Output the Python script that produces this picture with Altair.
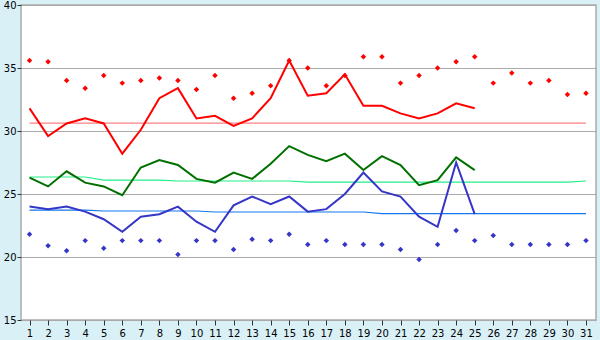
import altair as alt
import pandas as pd

days = list(range(1, 32))
line_days = list(range(1, 26))

max_line = [31.8, 29.6, 30.6, 31.0, 30.6, 28.2, 30.1, 32.6, 33.4, 31.0, 31.2, 30.4, 31.0,
            32.6, 35.6, 32.8, 33.0, 34.5, 32.0, 32.0, 31.4, 31.0, 31.4, 32.2, 31.8]
mean_line = [26.3, 25.6, 26.8, 25.9, 25.6, 24.9, 27.1, 27.7, 27.3, 26.2, 25.9, 26.7, 26.2,
             27.4, 28.8, 28.1, 27.6, 28.2, 26.9, 28.0, 27.3, 25.7, 26.1, 27.9, 26.9]
min_line = [24.0, 23.8, 24.0, 23.6, 23.0, 22.0, 23.2, 23.4, 24.0, 22.8, 22.0, 24.1, 24.8,
            24.2, 24.8, 23.6, 23.8, 25.0, 26.7, 25.2, 24.8, 23.2, 22.4, 27.5, 23.4]

max_points = [35.6, 35.5, 34.0, 33.4, 34.4, 33.8, 34.0, 34.2, 34.0, 33.3, 34.4, 32.6, 33.0,
              33.6, 35.6, 35.0, 33.6, 34.4, 35.9, 35.9, 33.8, 34.4, 35.0, 35.5, 35.9, 33.8,
              34.6, 33.8, 34.0, 32.9, 33.0]
min_points = [21.8, 20.9, 20.5, 21.3, 20.7, 21.3, 21.3, 21.3, 20.2, 21.3, 21.3, 20.6, 21.4,
              21.3, 21.8, 21.0, 21.3, 21.0, 21.0, 21.0, 20.6, 19.8, 21.0, 22.1, 21.3, 21.7,
              21.0, 21.0, 21.0, 21.0, 21.3]

max_normal = [30.63] * 31
mean_normal = [26.35, 26.35, 26.35, 26.35, 26.1, 26.1, 26.1, 26.1, 26.03, 26.03, 26.03,
               26.03, 26.03, 26.03, 26.03, 25.95, 25.95, 25.95, 25.95, 25.95, 25.95, 25.95,
               25.95, 25.95, 25.95, 25.95, 25.95, 25.95, 25.95, 25.95, 26.03]
min_normal = [23.72, 23.72, 23.72, 23.72, 23.65, 23.65, 23.65, 23.65, 23.65, 23.65, 23.57,
              23.57, 23.57, 23.57, 23.57, 23.57, 23.57, 23.57, 23.57, 23.44, 23.44, 23.44,
              23.44, 23.44, 23.44, 23.44, 23.44, 23.44, 23.44, 23.44, 23.44]

df_days = pd.DataFrame({"day": days, "max_pt": max_points, "min_pt": min_points,
                        "max_n": max_normal, "mean_n": mean_normal, "min_n": min_normal})
df_line = pd.DataFrame({"day": line_days, "max_l": max_line, "mean_l": mean_line,
                        "min_l": min_line})

x = alt.X("day:Q", scale=alt.Scale(domain=[0.54, 31.54], nice=False, zero=False),
          axis=alt.Axis(values=days, title=None, grid=False, domain=False, tickSize=5,
                        tickColor="#333333", labelPadding=3, labelFontSize=10,
                        labelFont="DejaVu Sans", labelColor="#000000", labelFlush=False))
yscale = alt.Scale(domain=[15, 40], nice=False, zero=False)
yaxis = alt.Axis(values=[15, 20, 25, 30, 35, 40], title=None, grid=True, gridColor="#aaaaaa",
                 gridWidth=1.2, domain=False, tickSize=4, tickColor="#333333",
                 labelPadding=1, labelFontSize=10, labelFont="DejaVu Sans",
                 labelColor="#000000", labelFlush=False)


def yenc(field):
    return alt.Y(f"{field}:Q", scale=yscale, axis=yaxis)


base_days = alt.Chart(df_days)
base_line = alt.Chart(df_line)

n_max = base_days.mark_line(color="#ff8080", strokeWidth=1.2).encode(x=x, y=yenc("max_n"))
n_mean = base_days.mark_line(color="#22ee88", strokeWidth=1.2).encode(x=x, y=yenc("mean_n"))
n_min = base_days.mark_line(color="#1177ee", strokeWidth=1.2).encode(x=x, y=yenc("min_n"))

l_max = base_line.mark_line(color="#ff0000", strokeWidth=2).encode(x=x, y=yenc("max_l"))
l_mean = base_line.mark_line(color="#007000", strokeWidth=2).encode(x=x, y=yenc("mean_l"))
l_min = base_line.mark_line(color="#3535c8", strokeWidth=2).encode(x=x, y=yenc("min_l"))

p_max = base_days.mark_point(shape="diamond", filled=True, size=30, color="#ff0000",
                             opacity=1).encode(x=x, y=yenc("max_pt"))
p_min = base_days.mark_point(shape="diamond", filled=True, size=30, color="#3535c8",
                             opacity=1).encode(x=x, y=yenc("min_pt"))

chart = alt.layer(n_max, n_mean, n_min, l_max, l_mean, l_min, p_max, p_min).properties(
    width=575, height=315,
    autosize=alt.AutoSizeParams(type="none"),
    padding={"left": 21, "top": 5, "right": 4, "bottom": 20},
    background="#d9f0f7",
).configure_view(fill="#ffffff", stroke="#aaaaaa", strokeWidth=1.5)

chart.save("out.html", embed_options={"renderer": "svg", "actions": False})
